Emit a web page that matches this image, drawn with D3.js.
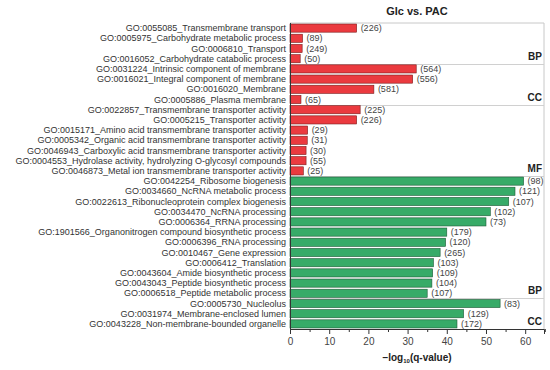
<!DOCTYPE html>
<html>
<head>
<meta charset="utf-8">
<script src="https://cdn.jsdelivr.net/npm/d3@7"></script>
<style>
  body { margin: 0; background: #fff; }
  text { font-family: "Liberation Sans", Arial, sans-serif; }
</style>
</head>
<body>
<div id="chart"></div>
<script>
// GO terms, top to bottom
const terms = [
  "GO:0055085_Transmembrane transport",
  "GO:0005975_Carbohydrate metabolic process",
  "GO:0006810_Transport",
  "GO:0016052_Carbohydrate catabolic process",
  "GO:0031224_Intrinsic component of membrane",
  "GO:0016021_Integral component of membrane",
  "GO:0016020_Membrane",
  "GO:0005886_Plasma membrane",
  "GO:0022857_Transmembrane transporter activity",
  "GO:0005215_Transporter activity",
  "GO:0015171_Amino acid transmembrane transporter activity",
  "GO:0005342_Organic acid transmembrane transporter activity",
  "GO:0046943_Carboxylic acid transmembrane transporter activity",
  "GO:0004553_Hydrolase activity, hydrolyzing O-glycosyl compounds",
  "GO:0046873_Metal ion transmembrane transporter activity",
  "GO:0042254_Ribosome biogenesis",
  "GO:0034660_NcRNA metabolic process",
  "GO:0022613_Ribonucleoprotein complex biogenesis",
  "GO:0034470_NcRNA processing",
  "GO:0006364_RRNA processing",
  "GO:1901566_Organonitrogen compound biosynthetic process",
  "GO:0006396_RNA processing",
  "GO:0010467_Gene expression",
  "GO:0006412_Translation",
  "GO:0043604_Amide biosynthetic process",
  "GO:0043043_Peptide biosynthetic process",
  "GO:0006518_Peptide metabolic process",
  "GO:0005730_Nucleolus",
  "GO:0031974_Membrane-enclosed lumen",
  "GO:0043228_Non-membrane-bounded organelle"
];
const qvals = [17.0, 3.2, 3.1, 2.6, 32.2, 31.3, 21.4, 2.8, 17.9, 17.0,
  4.5, 4.4, 4.1, 4.1, 3.4,
  59.6, 57.4, 55.8, 51.1, 50.0, 40.0, 39.7, 38.3, 36.6, 36.4, 36.2, 35.0,
  53.6, 44.3, 42.6];
const counts = [226, 89, 249, 50, 564, 556, 581, 65, 225, 226, 29, 31, 30, 55, 25,
  98, 121, 107, 102, 73, 179, 120, 265, 103, 109, 104, 107, 83, 129, 172];
// which regulation each bar belongs to (up = red, down = green)
const direction = [...Array(15).fill("up"), ...Array(15).fill("down")];
// GO category blocks: label and last row index
const groups = [
  {name: "BP", start: 0, end: 3},
  {name: "CC", start: 4, end: 7},
  {name: "MF", start: 8, end: 14},
  {name: "BP", start: 15, end: 26},
  {name: "CC", start: 27, end: 29}
];
const xTicks = [0, 10, 20, 30, 40, 50, 60];

const width = 550, height = 370;
const margin = {top: 23, right: 6, bottom: 41, left: 290};

const data = terms.map((t, i) => ({term: t, value: qvals[i], count: counts[i], dir: direction[i]}));

const svg = d3.select("#chart").append("svg")
    .attr("width", width)
    .attr("height", height);

const x = d3.scaleLinear()
    .domain([0, 64.8])
    .range([margin.left, width - margin.right]);

const y = d3.scaleBand()
    .domain(d3.range(data.length))
    .range([margin.top, height - margin.bottom])
    .paddingInner(0.2)
    .paddingOuter(0.1);

const fill = {up: "#eb3a3f", down: "#37ab68"};
const stroke = {up: "#7a1c1c", down: "#1e5a37"};

// Plot frame (light top/right)
svg.append("path")
    .attr("d", `M${x(0)},${margin.top}H${x.range()[1]}V${height - margin.bottom}`)
    .attr("fill", "none")
    .attr("stroke", "#c8c8c8")
    .attr("stroke-width", 1);

// Group separators
const rowEdge = i => margin.top + (height - margin.top - margin.bottom) * i / data.length;
svg.append("g")
  .selectAll("line")
  .data(groups.slice(0, -1))
  .join("line")
    .attr("x1", x(0))
    .attr("x2", x.range()[1])
    .attr("y1", d => Math.round(rowEdge(d.end + 1)) + 0.5)
    .attr("y2", d => Math.round(rowEdge(d.end + 1)) + 0.5)
    .attr("stroke", "#d0d0d0");

// Group labels
svg.append("g")
  .selectAll("text")
  .data(groups)
  .join("text")
    .attr("x", x.range()[1] - 2)
    .attr("y", d => rowEdge(d.end + 1) - 4)
    .attr("text-anchor", "end")
    .attr("font-size", 10)
    .attr("font-weight", "bold")
    .attr("fill", "#222")
    .text(d => d.name);

// Bars
svg.append("g")
  .selectAll("rect")
  .data(data)
  .join("rect")
    .attr("x", x(0))
    .attr("y", (d, i) => y(i))
    .attr("width", d => x(d.value) - x(0))
    .attr("height", y.bandwidth())
    .attr("fill", d => fill[d.dir])
    .attr("stroke", d => stroke[d.dir])
    .attr("stroke-width", 0.6);

// Count labels
svg.append("g")
  .selectAll("text")
  .data(data)
  .join("text")
    .attr("x", d => x(d.value) + 4)
    .attr("y", (d, i) => y(i) + y.bandwidth() / 2)
    .attr("dy", "0.35em")
    .attr("font-size", 9)
    .attr("fill", "#444")
    .text(d => `(${d.count})`);

// Term labels
svg.append("g")
  .selectAll("text")
  .data(data)
  .join("text")
    .attr("x", x(0) - 4)
    .attr("y", (d, i) => y(i) + y.bandwidth() / 2)
    .attr("dy", "0.35em")
    .attr("text-anchor", "end")
    .attr("font-size", 9)
    .attr("fill", "#333")
    .text(d => d.term);

// Left axis line
svg.append("line")
    .attr("x1", x(0) + 0.5).attr("x2", x(0) + 0.5)
    .attr("y1", margin.top).attr("y2", height - margin.bottom)
    .attr("stroke", "#333");

// Bottom axis with minor ticks
const xAxis = svg.append("g")
    .attr("transform", `translate(0,${height - margin.bottom})`)
    .call(d3.axisBottom(x).tickValues(xTicks).tickSize(5).tickPadding(4))
    .call(g => g.select(".domain").attr("stroke", "#333"))
    .call(g => g.selectAll(".tick line").attr("stroke", "#333"))
    .call(g => g.selectAll(".tick text")
        .attr("font-size", 10)
        .attr("fill", "#444")
        .attr("font-family", "Liberation Sans, Arial, sans-serif"));

xAxis.append("g")
  .selectAll("line")
  .data(xTicks.map(t => t + 5))
  .join("line")
    .attr("x1", d => x(d) + 0.5)
    .attr("x2", d => x(d) + 0.5)
    .attr("y1", 0)
    .attr("y2", 3)
    .attr("stroke", "#333");

// Axis title
const xt = svg.append("text")
    .attr("x", (x.range()[0] + x.range()[1]) / 2)
    .attr("y", height - 9)
    .attr("text-anchor", "middle")
    .attr("font-size", 10)
    .attr("font-weight", "bold")
    .attr("fill", "#222");
xt.append("tspan").text("\u2212log");
xt.append("tspan").attr("font-size", 6).attr("dy", 2).text("10");
xt.append("tspan").attr("dy", -2).text("(q-value)");

// Chart title
svg.append("text")
    .attr("x", (x.range()[0] + x.range()[1]) / 2)
    .attr("y", 15)
    .attr("text-anchor", "middle")
    .attr("font-size", 11)
    .attr("font-weight", "bold")
    .attr("fill", "#222")
    .text("Glc vs. PAC");
</script>
</body>
</html>
